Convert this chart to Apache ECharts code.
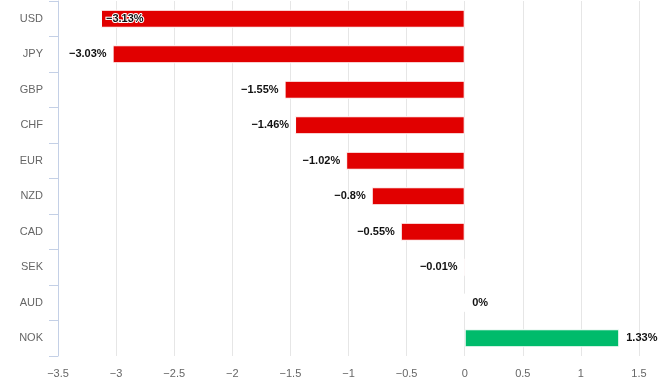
<!DOCTYPE html>
<html><head><meta charset="utf-8">
<script src="https://cdn.jsdelivr.net/npm/echarts@6/dist/echarts.min.js"></script>
<style>html,body{margin:0;padding:0;background:#fff}#c{width:665px;height:389px}</style>
</head><body><div id="c"></div>
<script>
const categories = ['USD','JPY','GBP','CHF','EUR','NZD','CAD','SEK','AUD','NOK'];
const values = [-3.13,-3.03,-1.55,-1.46,-1.02,-0.8,-0.55,-0.01,0,1.33];
const xTicks = {min:-3.5, max:1.5, interval:0.5};
const RED = '#e10000', GREEN = '#00bb6b';
const FONT = 'Liberation Sans';
const fmt = v => (v < 0 ? '\u2212' + String(Math.abs(v)) : String(v));

const data = values.map((v,i) => {
  const item = {value: v, itemStyle: {color: v >= 0 ? GREEN : RED}};
  if (v < 0) {
    item.label = {position: 'left', distance: 6};
  } else {
    item.label = {position: 'right', distance: 7};
  }
  if (i === 0) {
    item.label = {position: 'insideLeft', distance: 5, color: '#111', textBorderColor: '#fff', textBorderWidth: 2};
  }
  return item;
});

const chart = echarts.init(document.getElementById('c'), null, {renderer:'canvas'});
chart.setOption({
  animation: false,
  grid: {left: 58, right: 26, top: 1, bottom: 33},
  xAxis: {
    type: 'value', min: xTicks.min, max: xTicks.max, interval: xTicks.interval,
    axisLine: {show: false}, axisTick: {show: false},
    splitLine: {lineStyle: {color: '#e6e6e6', width: 1}},
    axisLabel: {color: '#666', fontSize: 11, margin: 12, fontFamily: FONT,
      formatter: v => fmt(v)}
  },
  yAxis: {
    type: 'category', data: categories, inverse: true, position: 'left',
    axisLine: {show: true, onZero: false, lineStyle: {color: '#c4d0e6', width: 1}},
    axisTick: {show: true, length: 9, alignWithLabel: false, lineStyle: {color: '#c4d0e6', width: 1}},
    axisLabel: {color: '#666', fontSize: 11, margin: 15, fontFamily: FONT},
    splitLine: {show: false}
  },
  series: [{
    type: 'bar', data: data, barWidth: 18,
    itemStyle: {borderColor: '#fff', borderWidth: 1},
    label: {show: true, fontSize: 11, fontWeight: 'bold', color: '#111', fontFamily: FONT,
      formatter: p => fmt(p.value) + '%'}
  }]
});
</script></body></html>
